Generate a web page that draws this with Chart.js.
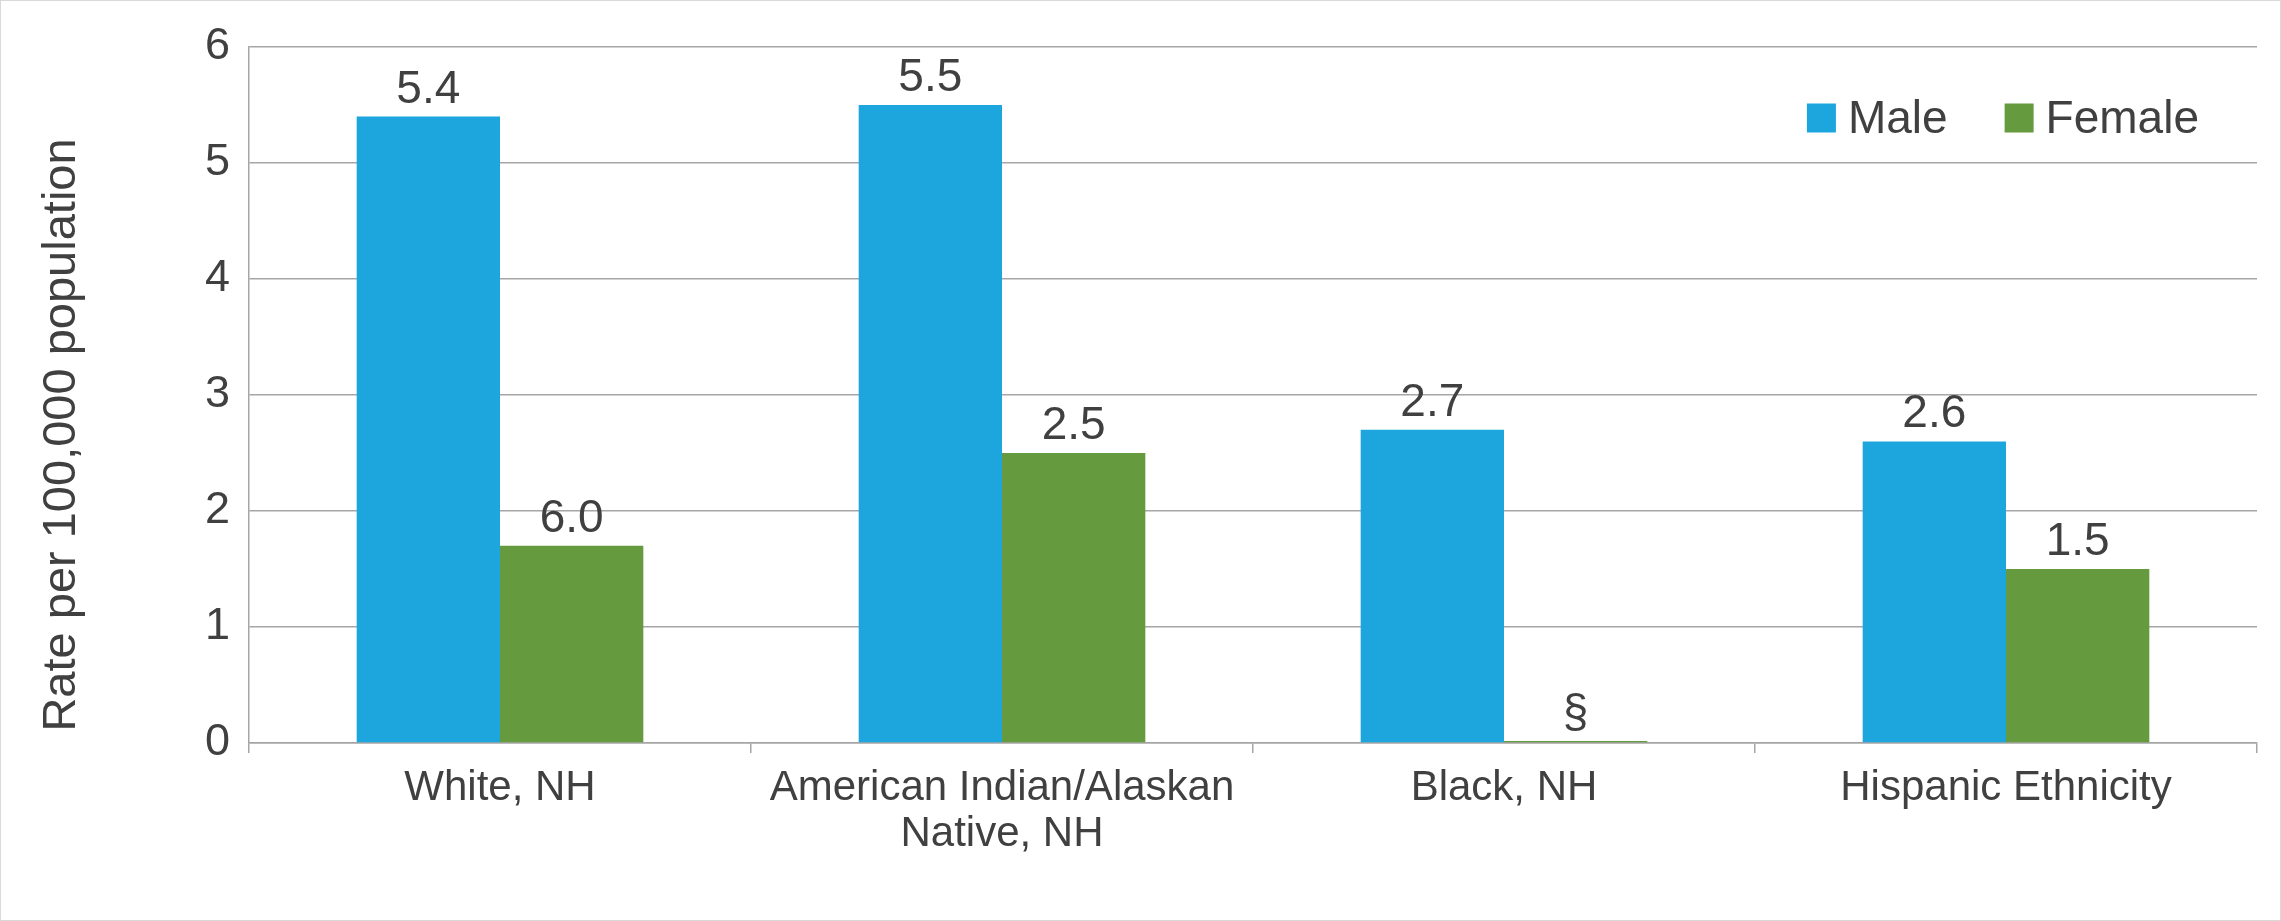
<!DOCTYPE html>
<html>
<head>
<meta charset="utf-8">
<script src="https://cdn.jsdelivr.net/npm/chart.js@4/dist/chart.umd.min.js"></script>
<style>
  html, body { margin: 0; padding: 0; background: #fff; }
  #wrap { width: 2281px; height: 921px; box-sizing: border-box; border: 1px solid #d9d9d9; }
  canvas { display: block; }
</style>
</head>
<body>
<div id="wrap"><canvas id="myChart" width="2279" height="919"></canvas></div>
<script>
var categories = ['White, NH', ['American Indian/Alaskan', 'Native, NH'], 'Black, NH', 'Hispanic Ethnicity'];
var maleRates = [5.4, 5.5, 2.7, 2.6];
var femaleRates = [1.7, 2.5, 0, 1.5];
var maleLabels = ['5.4', '5.5', '2.7', '2.6'];
var femaleLabels = ['6.0', '2.5', '§', '1.5'];
var yTicks = [0, 1, 2, 3, 4, 5, 6];
var yTitle = 'Rate per 100,000 population';

var FONT = "'Liberation Sans', Arial, sans-serif";
var TEXT = '#404040';
var GRID = '#a6a6a6';

// value labels above each bar
var barLabels = {
  id: 'barLabels',
  afterDatasetsDraw: function(chart) {
    var ctx = chart.ctx;
    ctx.save();
    ctx.font = '46px ' + FONT;
    ctx.fillStyle = TEXT;
    ctx.textAlign = 'center';
    ctx.textBaseline = 'alphabetic';
    chart.data.datasets.forEach(function(ds, i) {
      chart.getDatasetMeta(i).data.forEach(function(bar, j) {
        ctx.fillText(ds.valueLabels[j], bar.x, bar.y - 14);
      });
    });
    ctx.restore();
  }
};

// legend inside the plot, top right, plus the y axis title
var extras = {
  id: 'extras',
  afterDraw: function(chart) {
    var ctx = chart.ctx;
    var area = chart.chartArea;
    ctx.save();
    ctx.font = '46px ' + FONT;
    ctx.textBaseline = 'middle';
    var box = 29, gap = 12, itemGap = 57;
    var items = chart.data.datasets;
    var total = 0;
    items.forEach(function(ds, i) {
      total += box + gap + ctx.measureText(ds.label).width;
      if (i < items.length - 1) total += itemGap;
    });
    var x = area.right - 58 - total;
    var y = area.top + 71;
    items.forEach(function(ds) {
      ctx.fillStyle = ds.backgroundColor;
      ctx.fillRect(x, y - box / 2, box, box);
      x += box + gap;
      ctx.fillStyle = TEXT;
      ctx.textAlign = 'left';
      ctx.fillText(ds.label, x, y + 2);
      x += ctx.measureText(ds.label).width + itemGap;
    });

    ctx.font = '47px ' + FONT;
    ctx.fillStyle = TEXT;
    ctx.textAlign = 'center';
    ctx.translate(61, (area.top + area.bottom) / 2 + 40);
    ctx.rotate(-Math.PI / 2);
    ctx.fillText(yTitle, 0, 0);
    ctx.restore();
  }
};

var ctx = document.getElementById('myChart').getContext('2d');
var myChart = new Chart(ctx, {
  type: 'bar',
  data: {
    labels: categories,
    datasets: [{
      label: 'Male',
      data: maleRates,
      valueLabels: maleLabels,
      backgroundColor: '#1ca6dd',
      borderWidth: 0,
      categoryPercentage: 0.571,
      barPercentage: 1
    }, {
      label: 'Female',
      data: femaleRates,
      valueLabels: femaleLabels,
      backgroundColor: '#669a3f',
      borderWidth: 0,
      minBarLength: 2,
      categoryPercentage: 0.571,
      barPercentage: 1
    }]
  },
  plugins: [barLabels, extras],
  options: {
    responsive: false,
    devicePixelRatio: 1,
    animation: false,
    layout: { padding: { top: 45, right: 23, bottom: 0, left: 0 } },
    plugins: {
      legend: { display: false },
      tooltip: { enabled: false }
    },
    scales: {
      x: {
        grid: { display: true, drawOnChartArea: false, drawTicks: true, tickLength: 10, color: GRID, lineWidth: 1.5 },
        border: { color: GRID, width: 1.5 },
        ticks: { color: TEXT, font: { family: FONT, size: 42, lineHeight: 1.08 }, padding: 13, maxRotation: 0, autoSkip: false },
        afterFit: function(scale) { scale.height = 177; }
      },
      y: {
        min: 0,
        max: 6,
        afterBuildTicks: function(scale) { scale.ticks = yTicks.map(function(v) { return { value: v }; }); },
        grid: { color: GRID, lineWidth: 1.5, drawTicks: false },
        border: { color: GRID, width: 1.5 },
        ticks: { color: TEXT, font: { family: FONT, size: 45 }, padding: 19 },
        afterFit: function(scale) { scale.width = 248; }
      }
    }
  }
});
</script>
</body>
</html>
